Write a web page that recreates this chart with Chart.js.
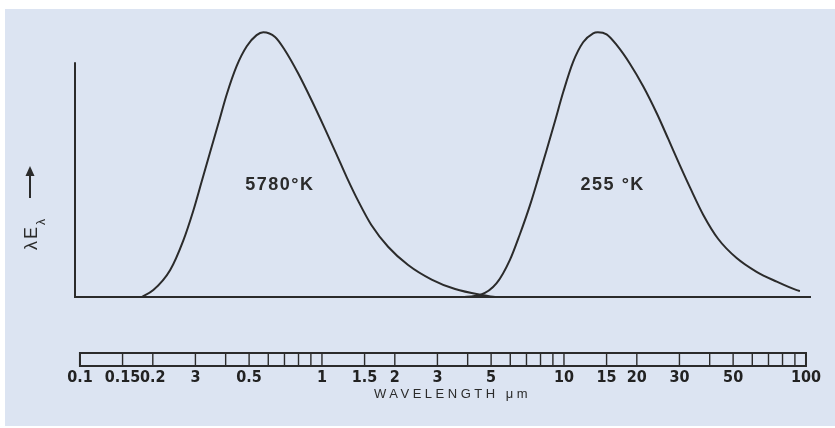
<!DOCTYPE html>
<html>
<head>
<meta charset="utf-8">
<script src="https://cdn.jsdelivr.net/npm/chart.js@4.4.1/dist/chart.umd.min.js"></script>
<style>
  body { margin: 0; background: #fff; }
  #wrap { position: relative; width: 835px; height: 428px; }
  #bg { position: absolute; left: 5px; top: 9px; right: 0; bottom: 2px; background: #dce4f2; }
  canvas { position: absolute; left: 0; top: 0; }
</style>
</head>
<body>
<div id="wrap"><div id="bg"></div><canvas id="myChart" width="835" height="428"></canvas></div>
<script>
// wavelength in micrometres, lambda*E_lambda scaled so each peak = 100
const sunWave = [0.180, 0.201, 0.236, 0.267, 0.294, 0.318, 0.344, 0.373, 0.404, 0.444, 0.489, 0.537, 0.572, 0.640, 0.703, 0.798, 0.906, 1.028, 1.15, 1.265, 1.413, 1.60, 1.88, 2.27, 2.84, 3.55, 4.57, 5.19]
const sunValue = [0, 2.6, 10.2, 21.2, 32.6, 43.4, 54.3, 65.4, 76.5, 87.2, 94.7, 98.9, 100, 98.2, 93.2, 84.4, 74.3, 63.6, 53.8, 45.3, 36.2, 27.2, 18.9, 12.1, 6.6, 3.0, 0.75, 0]

const earthWave = [3.79, 4.50, 5.27, 5.98, 6.58, 7.24, 7.83, 8.48, 9.18, 9.93, 10.9, 12.0, 13.2, 13.8, 15.0, 16.5, 18.7, 21.3, 24.2, 27.0, 30.1, 33.2, 37.7, 43.4, 51.7, 62.5, 75.7, 91.6, 94.4]
const earthValue = [0, 0.75, 5.2, 14.0, 23.8, 34.7, 44.9, 55.5, 66.4, 77.4, 88.7, 96.2, 99.6, 100, 99.2, 95.2, 88.2, 79.4, 69.3, 59.6, 49.8, 41.3, 30.9, 21.9, 14.7, 9.5, 5.8, 2.6, 2.3]

const tickValues = [0.1, 0.15, 0.2, 0.3, 0.5, 1, 1.5, 2, 3, 5, 10, 15, 20, 30, 50, 100]
const tickLabels = ['0.1', '0.15', '0.2', '3', '0.5', '1', '1.5', '2', '3', '5', '10', '15', '20', '30', '50', '100']
const barDivisions = [0.1, 0.15, 0.2, 0.3, 0.4, 0.5, 0.6, 0.7, 0.8, 0.9, 1, 1.5, 2, 3, 4, 5, 6, 7, 8, 9, 10, 15, 20, 30, 40, 50, 60, 70, 80, 90, 100]

const curveLabels = ['5780°K', '255 °K']
const labelWave = [0.67, 15.9]
const labelValue = [42.3, 42.3]

const yAxisTop = 88.7
const ink = '#2b2b2b'

function points(xs, ys) {
    return xs.map((v, i) => ({ x: v, y: ys[i] }))
}

const extras = {
    id: 'extras',
    afterDraw(chart) {
        const ctx = chart.ctx
        const a = chart.chartArea
        const x = chart.scales.x
        const y = chart.scales.y
        ctx.save()
        ctx.strokeStyle = ink
        ctx.fillStyle = ink

        // y axis line (shorter than the plot height)
        ctx.lineWidth = 2
        ctx.beginPath()
        ctx.moveTo(a.left, y.getPixelForValue(0) + 1)
        ctx.lineTo(a.left, y.getPixelForValue(yAxisTop))
        ctx.stroke()

        // wavelength scale bar
        const top = a.bottom + 56
        const h = 13
        const x0 = x.getPixelForValue(barDivisions[0])
        const x1 = x.getPixelForValue(barDivisions[barDivisions.length - 1])
        ctx.lineWidth = 2
        ctx.strokeRect(x0, top, x1 - x0, h)
        ctx.lineWidth = 1.4
        barDivisions.forEach(v => {
            const px = x.getPixelForValue(v)
            ctx.beginPath()
            ctx.moveTo(px, top)
            ctx.lineTo(px, top + h)
            ctx.stroke()
        })

        // tick labels under the bar
        ctx.textAlign = 'center'
        ctx.textBaseline = 'middle'
        ctx.fillStyle = '#222'
        ctx.font = 'bold 16px "Liberation Sans Narrow", "DejaVu Sans Condensed", sans-serif'
        tickValues.forEach((v, i) => {
            ctx.fillText(tickLabels[i], x.getPixelForValue(v), a.bottom + 81)
        })
        ctx.fillStyle = ink

        // curve labels
        ctx.font = 'bold 18px "Liberation Sans", Arial, sans-serif'
        ctx.letterSpacing = '1.5px'
        curveLabels.forEach((t, i) => {
            ctx.fillText(t, x.getPixelForValue(labelWave[i]), y.getPixelForValue(labelValue[i]))
        })

        // x title
        ctx.font = '13px "Liberation Sans", Arial, sans-serif'
        ctx.letterSpacing = '3.5px'
        ctx.fillText('WAVELENGTH μm', (a.left + a.right) / 2 + 10, a.bottom + 97)

        // y title, rotated
        ctx.translate(a.left - 38, a.bottom - 47)
        ctx.rotate(-Math.PI / 2)
        ctx.textAlign = 'left'
        ctx.textBaseline = 'alphabetic'
        ctx.font = '18px "Liberation Sans", Arial, sans-serif'
        ctx.letterSpacing = '2px'
        ctx.fillText('λE', 0, 0)
        const w = ctx.measureText('λE').width
        ctx.font = '12px "Liberation Sans", Arial, sans-serif'
        ctx.letterSpacing = '0px'
        ctx.fillText('λ', w, 8)
        ctx.lineWidth = 2
        ctx.beginPath()
        ctx.moveTo(52, -7)
        ctx.lineTo(80, -7)
        ctx.stroke()
        ctx.beginPath()
        ctx.moveTo(84, -7)
        ctx.lineTo(74, -11.5)
        ctx.lineTo(74, -2.5)
        ctx.closePath()
        ctx.fill()
        ctx.restore()
    }
}

const ctx = document.getElementById('myChart')

new Chart(ctx, {
    type: 'line',
    data: {
        datasets: [{
            label: '5780 K',
            data: points(sunWave, sunValue),
            borderColor: ink,
            borderWidth: 2,
            pointRadius: 0,
            cubicInterpolationMode: 'monotone',
            fill: false
        }, {
            label: '255 K',
            data: points(earthWave, earthValue),
            borderColor: ink,
            borderWidth: 2,
            pointRadius: 0,
            cubicInterpolationMode: 'monotone',
            fill: false
        }]
    },
    options: {
        responsive: false,
        animation: false,
        layout: { padding: { left: 75, right: 25, top: 19, bottom: 131 } },
        plugins: { legend: { display: false }, tooltip: { enabled: false } },
        scales: {
            x: {
                type: 'logarithmic',
                bounds: 'data',
                min: 0.0954,
                max: 103.9,
                grid: { display: false, drawTicks: false },
                border: { display: true, color: ink, width: 2 },
                ticks: { display: false }
            },
            y: {
                display: false,
                min: 0,
                max: 105
            }
        }
    },
    plugins: [extras]
})
</script>
</body>
</html>
